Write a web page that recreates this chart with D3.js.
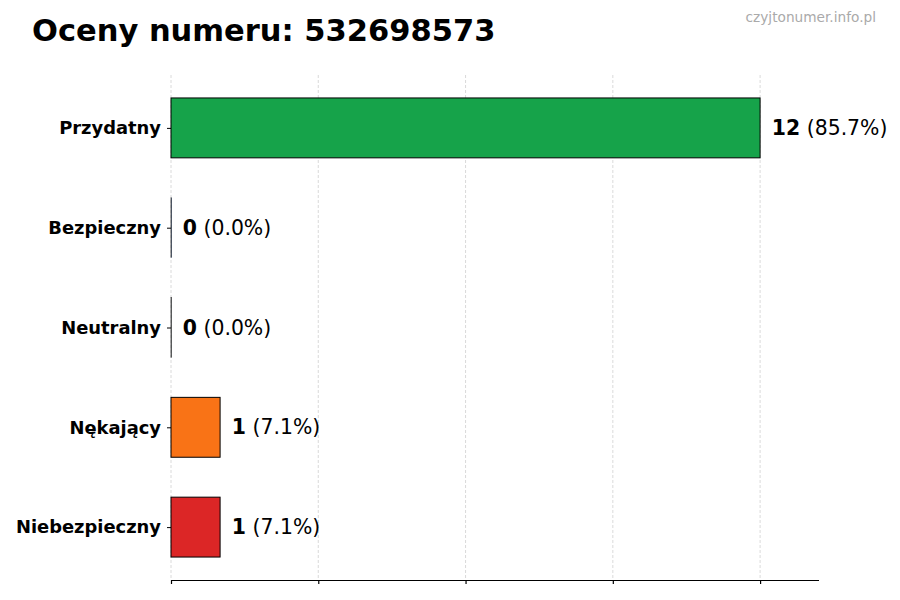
<!DOCTYPE html>
<html>
<head>
<meta charset="utf-8">
<script src="https://cdn.jsdelivr.net/npm/d3@7"></script>
<style>
  body { margin: 0; background: #fff; }
  svg { font-family: "DejaVu Sans", sans-serif; }
</style>
</head>
<body>
<svg width="900" height="600"></svg>
<script>
const categories = ["Przydatny", "Bezpieczny", "Neutralny", "Nękający", "Niebezpieczny"];
const counts = [12, 0, 0, 1, 1];
const percents = ["85.7%", "0.0%", "0.0%", "7.1%", "7.1%"];
const colors = ["#16a34a", "#3b82f6", "#9ca3af", "#f97316", "#dc2626"];
const xTicks = [0, 3, 6, 9, 12];

const svg = d3.select("svg");

const plotLeft = 171, plotRight = 819, plotTop = 75, plotBottom = 580;

const x = d3.scaleLinear().domain([0, 13.2]).range([plotLeft, plotRight]);
// matplotlib-like band: bar height 0.6, margins
const y = d3.scaleLinear().domain([-0.53, 4.53]).range([plotTop, plotBottom]);

// grid
svg.append("g")
    .selectAll("line")
    .data(xTicks)
    .enter()
    .append("line")
    .attr("x1", d => x(d)).attr("x2", d => x(d))
    .attr("y1", plotTop).attr("y2", plotBottom)
    .attr("stroke", "#d0d0d0")
    .attr("stroke-width", 0.8)
    .attr("stroke-dasharray", "3,2");

// bars (zero bars still show their edge)
svg.append("g")
    .selectAll("rect")
    .data(categories)
    .enter()
    .append("rect")
    .attr("x", x(0))
    .attr("y", (d, i) => y(i - 0.3))
    .attr("width", (d, i) => Math.max(x(counts[i]) - x(0), 0.3))
    .attr("height", (d, i) => y(i + 0.3) - y(i - 0.3))
    .attr("fill", (d, i) => colors[i])
    .attr("stroke", "#000")
    .attr("stroke-width", (d, i) => counts[i] > 0 ? 1 : 0.6);

// bottom axis
const xAxis = d3.axisBottom(x).tickValues(xTicks).tickSize(4).tickFormat("");
const gx = svg.append("g").attr("transform", `translate(0,${plotBottom})`).call(xAxis);
gx.select(".domain").attr("d", `M${plotLeft},0.5H${plotRight}`).attr("stroke", "#000").attr("stroke-width", 1.2);
gx.selectAll(".tick line").attr("stroke", "#000").attr("stroke-width", 1.2);

// left ticks and labels (no spine)
const yAxis = d3.axisLeft(y).tickValues(d3.range(categories.length)).tickSize(4)
    .tickPadding(6).tickFormat(i => categories[i]);
const gy = svg.append("g").attr("transform", `translate(${plotLeft},0)`).call(yAxis);
gy.select(".domain").remove();
gy.selectAll(".tick line").attr("stroke", "#000");
gy.selectAll(".tick text")
    .attr("font-family", "DejaVu Sans")
    .attr("font-weight", "bold")
    .attr("font-size", 17.9)
    .attr("fill", "#000");

// value labels
const labels = svg.append("g")
    .selectAll("text")
    .data(categories)
    .enter()
    .append("text")
    .attr("x", (d, i) => x(counts[i] + 0.24))
    .attr("y", (d, i) => y(i))
    .attr("dy", "0.35em")
    .attr("font-size", 20.4)
    .attr("fill", "#000");
labels.append("tspan").attr("font-weight", "bold").text((d, i) => counts[i]);
labels.append("tspan").text((d, i) => " (" + percents[i] + ")");

// title
svg.append("text")
    .attr("x", 32).attr("y", 41)
    .attr("font-size", 30.5)
    .attr("font-weight", "bold")
    .attr("fill", "#000")
    .text("Oceny numeru: 532698573");

// watermark
svg.append("text")
    .attr("x", 876).attr("y", 22)
    .attr("text-anchor", "end")
    .attr("font-size", 13.7)
    .attr("fill", "#aaaaaa")
    .text("czyjtonumer.info.pl");
</script>
</body>
</html>
